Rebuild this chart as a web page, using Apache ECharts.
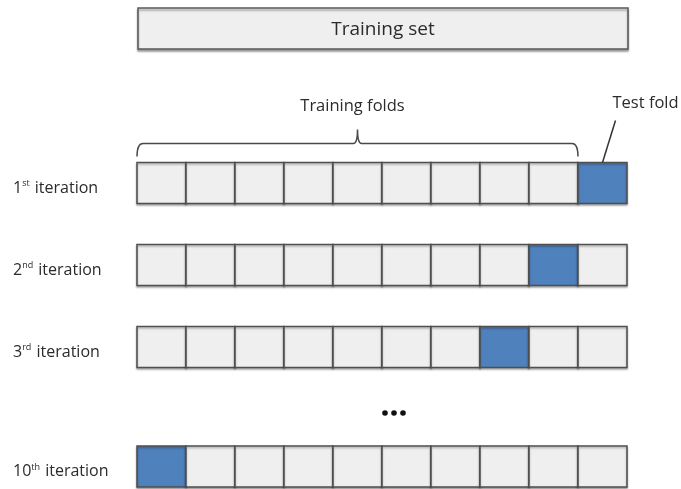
<!DOCTYPE html>
<html>
<head>
<meta charset="utf-8">
<script src="https://cdn.jsdelivr.net/npm/echarts@6/dist/echarts.min.js"></script>
<style>
html,body{margin:0;padding:0;background:#fff;}
#chart{width:681px;height:489px;}
</style>
</head>
<body>
<div id="chart"></div>
<script>
// ---- data ----
var numFolds = 10;
var iterationNums = [1, 2, 3, 10];
var iterationSuffix = ['st', 'nd', 'rd', 'th'];
var testFold = [9, 8, 7, 0];          // index of the test fold in each iteration
var titleText = 'Training set';
var trainingLabel = 'Training folds';
var testLabel = 'Test fold';

// ---- styles ----
var FONT = 'Open Sans';
var GREY = '#efefef';
var BLUE = '#4f81bd';
var STROKE = '#4f4f4f';
var TEXT = '#2b2b2b';

function cellData(rows) {
  var out = [];
  rows.forEach(function (r) {
    for (var f = 0; f < numFolds; f++) {
      out.push([f, r.pos, f === testFold[r.idx] ? 1 : 0]);
    }
  });
  return out;
}

function renderCell(params, api) {
  var f = api.value(0), r = api.value(1), t = api.value(2);
  var p0 = api.coord([f, r]);
  var p1 = api.coord([f + 1, r]);
  var h = api.size([0, 1])[1] * 0.5;
  return {
    type: 'rect',
    shape: { x: p0[0], y: p0[1] - h / 2, width: p1[0] - p0[0], height: h },
    style: {
      fill: t ? BLUE : GREY, stroke: STROKE, lineWidth: 1.5,
      shadowBlur: 2, shadowOffsetY: 1.5, shadowColor: 'rgba(0,0,0,0.3)'
    }
  };
}

function labelFor(i) {
  return '{n|' + iterationNums[i] + '}{s|' + iterationSuffix[i] + '}{n| iteration}';
}

var labelRich = {
  n: { fontFamily: FONT, fontSize: 16, color: TEXT, lineHeight: 20 },
  s: { fontFamily: FONT, fontSize: 9, color: TEXT, lineHeight: 20, padding: [0, 1, 9, 0] }
};

var rowsTop = [{ idx: 0, pos: 0 }, { idx: 1, pos: 1 }, { idx: 2, pos: 2 }];
var rowsBottom = [{ idx: 3, pos: 0 }];

var chart = echarts.init(document.getElementById('chart'), null, { renderer: 'canvas' });

var xAxisBase = { type: 'value', min: 0, max: numFolds, show: false };

var option = {
  backgroundColor: '#ffffff',
  animation: false,
  grid: [
    { left: 137, right: 54, top: 8, height: 41, outerBoundsMode: 'none' },
    { left: 137, right: 54, top: 142, height: 246, outerBoundsMode: 'none' },
    { left: 137, right: 54, top: 425.5, height: 82, outerBoundsMode: 'none' }
  ],
  xAxis: [
    Object.assign({ gridIndex: 0 }, xAxisBase),
    Object.assign({ gridIndex: 1 }, xAxisBase),
    Object.assign({ gridIndex: 2 }, xAxisBase)
  ],
  yAxis: [
    { gridIndex: 0, type: 'category', data: [titleText], show: false, inverse: true },
    {
      gridIndex: 1, type: 'category', inverse: true,
      data: rowsTop.map(function (r) { return iterationNums[r.idx]; }),
      axisLine: { show: false }, axisTick: { show: false },
      axisLabel: {
        align: 'left', margin: 124, padding: [10, 0, 0, 0],
        formatter: function (v, i) { return labelFor(rowsTop[i].idx); },
        rich: labelRich
      }
    },
    {
      gridIndex: 2, type: 'category', inverse: true,
      data: rowsBottom.map(function (r) { return iterationNums[r.idx]; }),
      axisLine: { show: false }, axisTick: { show: false },
      axisLabel: {
        align: 'left', margin: 124, padding: [10, 0, 0, 0],
        formatter: function (v, i) { return labelFor(rowsBottom[i].idx); },
        rich: labelRich
      }
    }
  ],
  series: [
    {
      type: 'custom', xAxisIndex: 0, yAxisIndex: 0,
      data: [[0, 0]],
      renderItem: function (params, api) {
        var p0 = api.coord([0, 0]);
        var p1 = api.coord([numFolds, 0]);
        var h = api.size([0, 1])[1];
        return {
          type: 'group',
          children: [
            {
              type: 'rect',
              shape: { x: p0[0] + 1, y: p0[1] - h / 2, width: p1[0] - p0[0], height: h },
              style: { fill: GREY, stroke: '#5a5a5a', lineWidth: 1.5,
                shadowBlur: 2, shadowOffsetY: 2, shadowColor: 'rgba(0,0,0,0.35)' }
            },
            {
              type: 'text',
              style: { text: titleText, x: (p0[0] + p1[0]) / 2 + 1, y: p0[1] + 1,
                align: 'center', verticalAlign: 'middle',
                fontFamily: FONT, fontSize: 19, fill: TEXT }
            }
          ]
        };
      }
    },
    {
      type: 'custom', xAxisIndex: 1, yAxisIndex: 1,
      data: cellData(rowsTop), renderItem: renderCell
    },
    {
      type: 'custom', xAxisIndex: 2, yAxisIndex: 2,
      data: cellData(rowsBottom), renderItem: renderCell
    },
    {
      // brace + annotations for the first iteration
      type: 'custom', xAxisIndex: 1, yAxisIndex: 1,
      data: [[0, 0]],
      renderItem: function (params, api) {
        var r = api.value(1);
        var tf = testFold[0];
        var xa = api.coord([0, r])[0];
        var xb = api.coord([tf, r])[0];
        var c = api.coord([0, r])[1];
        var h = api.size([0, 1])[1] * 0.5;
        var top = c - h / 2;
        var yb = top - 19;
        var xm = (xa + xb) / 2;
        var path = 'M' + xa + ',' + (yb + 13) +
          ' Q' + xa + ',' + yb + ' ' + (xa + 6) + ',' + yb +
          ' L' + (xm - 4) + ',' + yb +
          ' Q' + xm + ',' + yb + ' ' + xm + ',' + (yb - 14) +
          ' Q' + xm + ',' + yb + ' ' + (xm + 4) + ',' + yb +
          ' L' + (xb - 6) + ',' + yb +
          ' Q' + xb + ',' + yb + ' ' + xb + ',' + (yb + 13);
        var tc = (api.coord([tf, r])[0] + api.coord([tf + 1, r])[0]) / 2;
        return {
          type: 'group',
          children: [
            { type: 'path', shape: { pathData: path },
              style: { fill: null, stroke: '#4a4a4a', lineWidth: 1.5 } },
            { type: 'text',
              style: { text: trainingLabel, x: xm - 5, y: top - 56,
                align: 'center', verticalAlign: 'middle',
                fontFamily: FONT, fontSize: 16.5, fill: TEXT } },
            { type: 'line',
              shape: { x1: tc, y1: top, x2: tc + 13, y2: top - 42 },
              style: { stroke: '#333', lineWidth: 1.5 } },
            { type: 'text',
              style: { text: testLabel, x: tc + 10, y: top - 59,
                align: 'left', verticalAlign: 'middle',
                fontFamily: FONT, fontSize: 16.5, fill: TEXT } }
          ]
        };
      }
    }
  ],
  graphic: [
    { type: 'circle', shape: { cx: 385, cy: 413, r: 2.8 }, style: { fill: '#111' } },
    { type: 'circle', shape: { cx: 394, cy: 413, r: 2.8 }, style: { fill: '#111' } },
    { type: 'circle', shape: { cx: 403, cy: 413, r: 2.8 }, style: { fill: '#111' } }
  ]
};

chart.setOption(option);
</script>
</body>
</html>
